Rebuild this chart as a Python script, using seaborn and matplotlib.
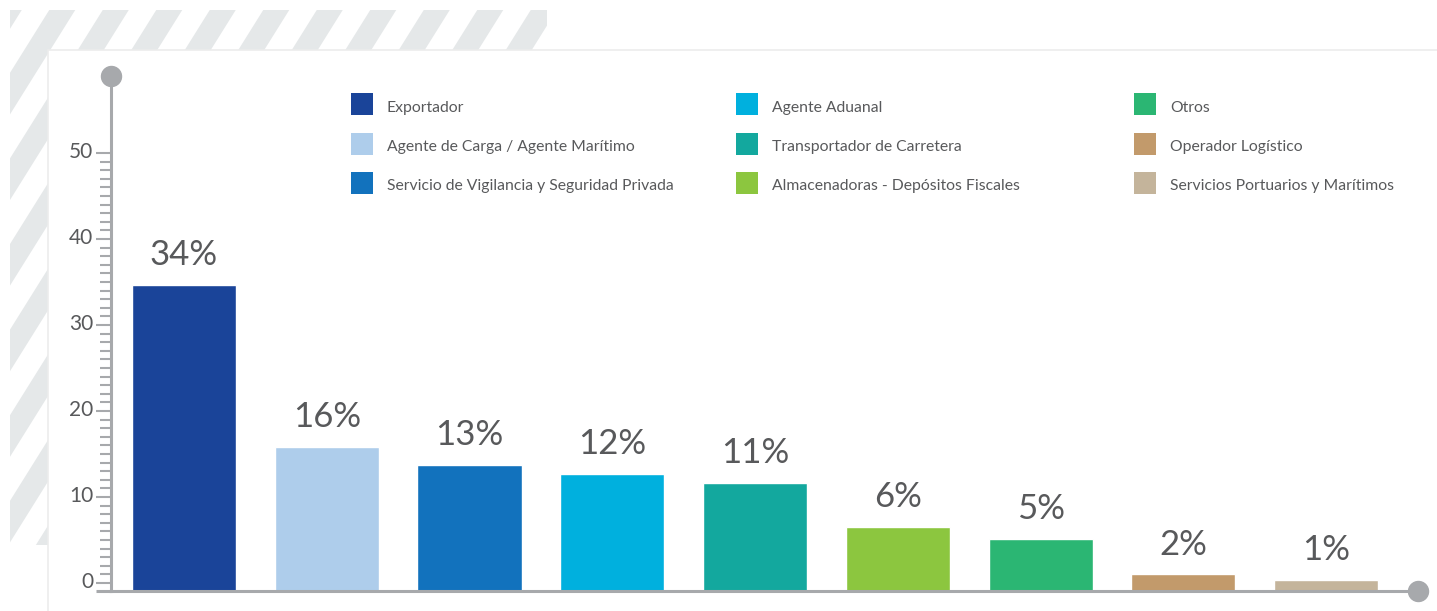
import matplotlib
matplotlib.use('Agg')
import matplotlib.pyplot as plt
from matplotlib.patches import Polygon, PathPatch
from matplotlib.lines import Line2D
from matplotlib.path import Path
import matplotlib.transforms as mtransforms
import seaborn as sns

# data
categories = ['Exportador', 'Agente de Carga / Agente Marítimo', 'Servicio de Vigilancia y Seguridad Privada',
              'Agente Aduanal', 'Transportador de Carretera', 'Almacenadoras - Depósitos Fiscales',
              'Otros', 'Operador Logístico', 'Servicios Portuarios y Marítimos']
values = [34.7, 15.8, 13.7, 12.7, 11.6, 6.5, 5.1, 1.0, 0.35]  # bar tops measured on the ruler
value_labels = ['34%', '16%', '13%', '12%', '11%', '6%', '5%', '2%', '1%']
colors = ['#1a4499', '#aecdeb', '#1272bd', '#00b0de', '#13a89e', '#8cc63f', '#2bb673', '#c29a6b', '#c4b49b']
major_ticks = [0, 10, 20, 30, 40, 50]
minor_ticks = list(range(0, 51))

sns.set_style('white')
plt.rcParams['font.family'] = ['Lato', 'DejaVu Sans']

GREY = '#a7a9ac'
TEXT = '#58595b'
W, H = 1437, 611

fig = plt.figure(figsize=(W / 100, H / 100), dpi=100)

# decorative striped frame in the top-left corner (pixel coordinates)
bg = fig.add_axes([0, 0, 1, 1], zorder=-1)
bg.set_xlim(0, W)
bg.set_ylim(H, 0)
bg.axis('off')
frame = Path([(10, 10), (547, 10), (547, 50), (48, 50), (48, 545), (10, 545), (10, 10)], closed=True)
clip = PathPatch(frame, facecolor='none', edgecolor='none')
bg.add_patch(clip)
slope, period, stripe_w = 1.6, 53.5, 26
for k in range(-3, 14):
    c = 2 + k * period
    poly = Polygon([(c, 0), (c + stripe_w, 0), (c + stripe_w - H / slope, H), (c - H / slope, H)],
                   closed=True, facecolor='#e5e8e9', edgecolor='none')
    bg.add_patch(poly)
    poly.set_clip_path(clip)
bg.plot([48, 48], [50, H], color='#ececec', lw=1.2)
bg.plot([48, W], [50, 50], color='#ececec', lw=1.2)

# main axes
ax = fig.add_axes([110.5 / W, 20 / H, (1418 - 110.5) / W, (591 - 76) / H])
ax.patch.set_alpha(0)
base = -0.93
sns.barplot(x=categories, y=values, hue=categories, palette=colors, legend=False,
            width=0.729, saturation=1, ax=ax)
ax.set_xlim(-0.515, 8.644)
ax.set_ylim(base, 58.95)

# bars sit on the axis line, a little below the ruler zero
for p in ax.patches:
    top = p.get_y() + p.get_height()
    p.set_y(base)
    p.set_height(top - base)

for cont, lab in zip(ax.containers, value_labels):
    ax.bar_label(cont, labels=[lab], padding=10, fontsize=25, color=TEXT)

sns.despine(ax=ax, top=True, right=True)
for side in ['left', 'bottom']:
    ax.spines[side].set_color(GREY)
    ax.spines[side].set_linewidth(2.2)
ax.set_xticks([])
ax.set_xlabel('')
ax.set_ylabel('')
ax.set_yticks(major_ticks)
ax.set_yticks(minor_ticks, minor=True)
ax.tick_params(axis='y', which='both', left=True, direction='out')
ax.tick_params(axis='y', which='major', length=11, width=1.5, color=GREY, pad=1.5,
               labelsize=15, labelcolor=TEXT)
ax.tick_params(axis='y', which='minor', length=8, width=1.5, color=GREY)
shift_up = mtransforms.ScaledTranslation(0, 2 / 72, fig.dpi_scale_trans)
for t in ax.get_yticklabels():
    t.set_transform(t.get_transform() + shift_up)

# end caps on the axis lines
ax.plot([-0.515], [58.95], 'o', ms=14.4, color=GREY, clip_on=False, zorder=5)
ax.plot([8.644], [base], 'o', ms=14.4, color=GREY, clip_on=False, zorder=5)
ax.plot([-0.515 - 0.105, -0.515], [base, base], color=GREY, lw=2.2, clip_on=False,
        solid_capstyle='butt')

# legend in three columns
col_x = [350, 735, 1133]
for i, x in enumerate(col_x):
    handles = [Line2D([], [], marker='s', linestyle='none', markersize=16.5, markeredgewidth=0,
                      markerfacecolor=colors[j], label=categories[j]) for j in range(i * 3, i * 3 + 3)]
    leg = fig.legend(handles=handles, loc='upper left', bbox_to_anchor=(x / W, 1 - 97 / H),
                     frameon=False, fontsize=11.3, handlelength=1.5, handleheight=1.5,
                     handletextpad=0.85, labelspacing=1.28, borderpad=0, borderaxespad=0)
    for t in leg.get_texts():
        t.set_color(TEXT)

fig.savefig('out.png', dpi=100)
